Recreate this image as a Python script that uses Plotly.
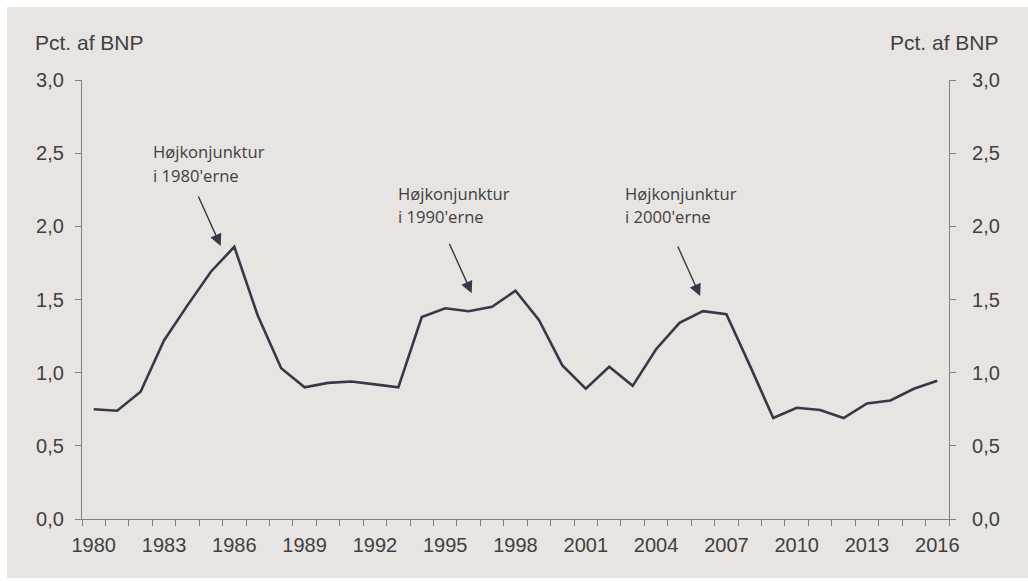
import plotly.graph_objects as go

years = list(range(1980, 2017))
share_of_gdp = [
    0.75, 0.74, 0.87, 1.22, 1.46, 1.69, 1.86, 1.39, 1.03, 0.90,
    0.93, 0.94, 0.92, 0.90, 1.38, 1.44, 1.42, 1.45, 1.56, 1.36,
    1.05, 0.89, 1.04, 0.91, 1.16, 1.34, 1.42, 1.40, 1.05, 0.69,
    0.76, 0.745, 0.69, 0.79, 0.81, 0.89, 0.945,
]
year_labels = [str(y) for y in range(1980, 2017, 3)]
axis_title = "Pct. af BNP"
# (line 1, line 2, text x, text y, arrow tip x, arrow tip y)
notes = [
    ("Højkonjunktur", "i 1980'erne", 1982.43, 2.43, 1985.42, 1.866),
    ("Højkonjunktur", "i 1990'erne", 1992.90, 2.146, 1996.13, 1.543),
    ("Højkonjunktur", "i 2000'erne", 2002.59, 2.146, 2005.88, 1.524),
]

BG = "#e8e4e1"
LINE = "#363a48"
AXIS = "#808080"
TXT = "#404040"

fig = go.Figure()
fig.add_trace(go.Scatter(x=years, y=share_of_gdp, mode="lines",
                         line=dict(color=LINE, width=2.6), yaxis="y",
                         showlegend=False))
fig.add_trace(go.Scatter(x=years, y=share_of_gdp, mode="lines",
                         line=dict(color="rgba(0,0,0,0)", width=0), yaxis="y2",
                         showlegend=False, hoverinfo="skip"))

tickfont = dict(family="Liberation Sans, Arial", size=20, color=TXT)

fig.update_layout(
    width=1028, height=581,
    margin=dict(l=82, r=79, t=80, b=62),
    paper_bgcolor="white",
    plot_bgcolor=BG,
    separators=",.",
    xaxis=dict(
        range=[1979.5, 2016.5],
        tickmode="array",
        tickvals=[int(s) for s in year_labels],
        ticktext=year_labels,
        ticks="",
        ticklabelstandoff=8,
        tickfont=tickfont,
        showline=True, linecolor=AXIS, linewidth=1.2,
        showgrid=False, zeroline=False,
        minor=dict(tick0=1979.5, dtick=1, ticks="outside", ticklen=6,
                   tickcolor=AXIS, tickwidth=1.2, showgrid=False),
    ),
    yaxis=dict(
        range=[0, 3], dtick=0.5, tick0=0, tickformat=".1f",
        ticks="outside", ticklen=6, tickcolor=AXIS, tickwidth=1.2,
        ticklabelstandoff=7,
        showline=True, linecolor=AXIS, linewidth=1.2,
        showgrid=False, zeroline=False, tickfont=tickfont,
    ),
    yaxis2=dict(
        range=[0, 3], dtick=0.5, tick0=0, tickformat=".1f",
        overlaying="y", side="right",
        ticks="outside", ticklen=6, tickcolor=AXIS, tickwidth=1.2,
        ticklabelstandoff=12,
        showline=True, linecolor=AXIS, linewidth=1.2,
        showgrid=False, zeroline=False, tickfont=tickfont,
    ),
    shapes=[dict(type="rect", xref="paper", yref="paper", layer="below",
                 x0=(7 - 82) / 867, x1=(1028 - 82) / 867,
                 y0=(519 - 578) / 439, y1=(519 - 7) / 439,
                 fillcolor=BG, line=dict(width=0))],
)

ann = [
    dict(text=axis_title, xref="paper", yref="paper", x=(33 - 82) / 867, y=(519 - 42) / 439,
         xanchor="left", yanchor="middle", showarrow=False,
         font=dict(family="Liberation Sans, Arial", size=21, color=TXT)),
    dict(text=axis_title, xref="paper", yref="paper", x=(1001 - 82) / 867, y=(519 - 42) / 439,
         xanchor="right", yanchor="middle", showarrow=False,
         font=dict(family="Liberation Sans, Arial", size=21, color=TXT)),
]
note_font = dict(family="Open Sans", size=16.6, color=TXT)
for line1, line2, tx, ty, hx, hy in notes:
    ann.append(dict(text=line1, x=tx, y=ty, xref="x", yref="y", xanchor="left",
                    yanchor="middle", showarrow=False, yshift=11.7, font=note_font))
    ann.append(dict(text=line2, x=tx, y=ty, xref="x", yref="y", xanchor="left",
                    yanchor="middle", showarrow=False, yshift=-11.7, font=note_font))
    ann.append(dict(text="", x=hx, y=hy, xref="x", yref="y", ax=-23, ay=-51,
                    showarrow=True, arrowhead=2, arrowsize=1.7, arrowwidth=1.4,
                    arrowcolor=LINE, standoff=0))
fig.update_layout(annotations=ann)

fig.write_html("out.html")
